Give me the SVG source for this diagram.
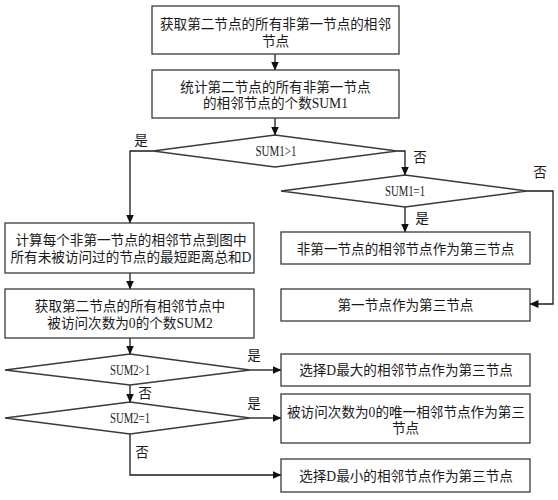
<svg xmlns="http://www.w3.org/2000/svg" width="558" height="500" viewBox="0 0 558 500">
<style>
.box{fill:#fff;stroke:#3a3a3a;stroke-width:1.3}
.t{font-family:"Liberation Serif","Noto Sans CJK SC",serif;font-size:13.6px;fill:#1a1a1a;text-anchor:middle;dominant-baseline:central}
.s{font-size:14.5px}
.c{fill:none;stroke:#1a1a1a;stroke-width:1.3}
</style>
<defs>
<marker id="ah" markerUnits="userSpaceOnUse" markerWidth="9" markerHeight="8" refX="8.5" refY="4" orient="auto">
<path d="M0,0 L9,4 L0,8 z" fill="#111"/>
</marker>
</defs>
<rect width="558" height="500" fill="#fff"/>
<g id="connectors">
<path class="c" d="M275,54 V70" marker-end="url(#ah)"/>
<path class="c" d="M275,118 V135" marker-end="url(#ah)"/>
<path class="c" d="M153,151 H130 V223" marker-end="url(#ah)"/>
<path class="c" d="M397,151 H405 V175" marker-end="url(#ah)"/>
<path class="c" d="M405,207 V232" marker-end="url(#ah)"/>
<path class="c" d="M527,191 H553 V304 H530" marker-end="url(#ah)"/>
<path class="c" d="M130,273 V289" marker-end="url(#ah)"/>
<path class="c" d="M130,338 V354" marker-end="url(#ah)"/>
<path class="c" d="M250,370 H281" marker-end="url(#ah)"/>
<path class="c" d="M130,385 V402" marker-end="url(#ah)"/>
<path class="c" d="M250,418 H281" marker-end="url(#ah)"/>
<path class="c" d="M130,434 V475 H281" marker-end="url(#ah)"/>
<text class="t" x="141" y="140">是</text>
<text class="t" x="420" y="157">否</text>
<text class="t" x="540" y="172">否</text>
<text class="t" x="422" y="218">是</text>
<text class="t" x="254" y="355">是</text>
<text class="t" x="145" y="393">否</text>
<text class="t" x="254" y="403">是</text>
<text class="t" x="142" y="452">否</text>
</g>
<g id="n1">
<rect class="box" x="152" y="6" width="247" height="48"/>
<text class="t" x="275.5" y="24">获取第二节点的所有非第一节点的相邻</text>
<text class="t" x="275.5" y="41">节点</text>
</g>
<g id="n2">
<rect class="box" x="152" y="70" width="247" height="48"/>
<text class="t" x="275.5" y="87">统计第二节点的所有非第一节点</text>
<text class="t" x="275.5" y="103">的相邻节点的个数SUM1</text>
</g>
<g id="d1">
<polygon class="box" points="275,135 397,151 275,167 153,151"/>
<text class="t s" x="276" y="151" textLength="41" lengthAdjust="spacingAndGlyphs">SUM1&gt;1</text>
</g>
<g id="d2">
<polygon class="box" points="405,175 527,191 405,207 281,191"/>
<text class="t s" x="405" y="191" textLength="40" lengthAdjust="spacingAndGlyphs">SUM1=1</text>
</g>
<g id="n5">
<rect class="box" x="281" y="232" width="249" height="32"/>
<text class="t" x="405.5" y="249">非第一节点的相邻节点作为第三节点</text>
</g>
<g id="n6">
<rect class="box" x="281" y="289" width="249" height="32"/>
<text class="t" x="405.5" y="305">第一节点作为第三节点</text>
</g>
<g id="n3">
<rect class="box" x="5" y="223" width="249" height="50"/>
<text class="t" x="131" y="240">计算每个非第一节点的相邻节点到图中</text>
<text class="t" x="131" y="257">所有未被访问过的节点的最短距离总和D</text>
</g>
<g id="n4">
<rect class="box" x="5" y="289" width="249" height="49"/>
<text class="t" x="130" y="306">获取第二节点的所有相邻节点中</text>
<text class="t" x="130" y="323">被访问次数为0的个数SUM2</text>
</g>
<g id="d3">
<polygon class="box" points="130,354 250,370 130,385 5,370"/>
<text class="t s" x="130" y="370" textLength="40" lengthAdjust="spacingAndGlyphs">SUM2&gt;1</text>
</g>
<g id="d4">
<polygon class="box" points="130,402 250,418 130,434 5,418"/>
<text class="t s" x="130" y="418" textLength="40" lengthAdjust="spacingAndGlyphs">SUM2=1</text>
</g>
<g id="n7">
<rect class="box" x="281" y="354" width="249" height="32"/>
<text class="t" x="406" y="370">选择D最大的相邻节点作为第三节点</text>
</g>
<g id="n8">
<rect class="box" x="281" y="394" width="249" height="49"/>
<text class="t" x="406" y="412" textLength="238" lengthAdjust="spacingAndGlyphs">被访问次数为0的唯一相邻节点作为第三</text>
<text class="t" x="405.5" y="428">节点</text>
</g>
<g id="n9">
<rect class="box" x="281" y="459" width="249" height="33"/>
<text class="t" x="406" y="476">选择D最小的相邻节点作为第三节点</text>
</g>
</svg>
